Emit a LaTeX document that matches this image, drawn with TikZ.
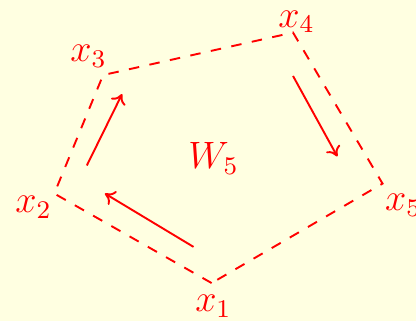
\documentclass[tikz,border=0pt]{standalone}
\usepackage{amsmath}
\usepackage{tikz}
\usetikzlibrary{arrows.meta, positioning, calc}
\definecolor{wheelred}{RGB}{255,0,0}
\definecolor{wheelbg}{RGB}{255,255,225}

\begin{document}
\begin{tikzpicture}[
  edge/.style={draw=wheelred, dash pattern=on 3.3pt off 3.3pt, line width=0.6pt},
  arr/.style={-{To[length=3pt,width=5pt]}, wheelred, line width=0.6pt},
  lbl/.style={text=wheelred, inner sep=0.5pt, font=\large}
]
\fill[wheelbg] (0,0) rectangle (4.6,3.55);
\useasboundingbox (0,0) rectangle (4.6,3.55);
% vertices of the wheel rim
\coordinate (x1) at (2.34,0.42);
\coordinate (x2) at (0.60,1.41);
\coordinate (x3) at (1.14,2.72);
\coordinate (x4) at (3.24,3.19);
\coordinate (x5) at (4.23,1.52);
\node[lbl] (l1) at (2.36,0.16) {$x_1$};
\node[lbl] (l2) at (0.37,1.26) {$x_2$};
\node[lbl] (l3) at (0.98,2.93) {$x_3$};
\node[lbl] (l4) at (3.28,3.31) {$x_4$};
\node[lbl] (l5) at (4.46,1.28) {$x_5$};
\node[lbl] (w) at (2.36,1.80) {$W_5$};
\draw[edge] (x1) -- (x2) -- (x3) -- (x4) -- (x5) -- cycle;
% direction arrows along the rim
\coordinate (a1s) at (2.14,0.82);
\coordinate (a1e) at (1.16,1.41);
\coordinate (a2s) at (0.96,1.72);
\coordinate (a2e) at (1.35,2.51);
\coordinate (a3s) at (3.24,2.71);
\coordinate (a3e) at (3.73,1.82);
\draw[arr] (a1s) -- (a1e);
\draw[arr] (a2s) -- (a2e);
\draw[arr] (a3s) -- (a3e);
\end{tikzpicture}
\end{document}
